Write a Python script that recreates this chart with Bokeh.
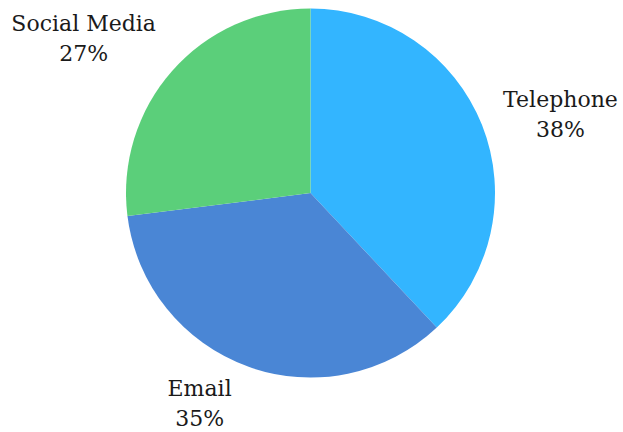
import math
from bokeh.plotting import figure
from bokeh.models import ColumnDataSource
from bokeh.core.properties import value
from bokeh.embed import file_html
from bokeh.resources import INLINE

categories = ["Telephone", "Email", "Social Media"]
shares = [38, 35, 27]
colors = ["#33B5FF", "#4A86D5", "#5BCF7A"]

W, H = 623, 432
cx, cy, r = 310, 239.5, 184.5

starts, ends, mids = [], [], []
cum = 0.0
for s in shares:
    frac = s / sum(shares)
    a0 = math.pi / 2 - cum * 2 * math.pi
    a1 = math.pi / 2 - (cum + frac) * 2 * math.pi
    starts.append(a0)
    ends.append(a1)
    mids.append((a0 + a1) / 2)
    cum += frac

src = ColumnDataSource(dict(cat=categories, start=starts, end=ends, color=colors))

p = figure(width=W, height=H, x_range=(0, W), y_range=(0, H),
           output_backend="svg", toolbar_location=None, min_border=0)
p.axis.visible = False
p.grid.visible = False
p.outline_line_color = None
p.background_fill_color = "white"

p.wedge(x=cx, y=cy, radius=r, start_angle="start", end_angle="end",
        direction="clock", fill_color="color", line_color=None, source=src)

# label placement (layout): radial distance factor and angle tweak per label
label_dist = [1.406, 1.333, 1.461]
label_tweak = [-6.1, -7.0, 8.7]  # degrees
nx, ny, nt, px, py, pt = [], [], [], [], [], []
for c, s, m, d, t in zip(categories, shares, mids, label_dist, label_tweak):
    a = m + math.radians(t)
    x = cx + d * r * math.cos(a)
    y = cy + d * r * math.sin(a) + 9
    nx.append(x); ny.append(y + 15); nt.append(c)
    px.append(x); py.append(y - 15); pt.append(f"{s}%")

for xs, ys, ts in ((nx, ny, nt), (px, py, pt)):
    lsrc = ColumnDataSource(dict(x=xs, y=ys, text=ts))
    p.text(x="x", y="y", text="text", source=lsrc, text_align="center",
           text_baseline="alphabetic", text_font=value("DejaVu Serif"),
           text_font_size="22px", text_color="#1a1a1a")

open("out.html", "w").write(file_html(p, INLINE))
